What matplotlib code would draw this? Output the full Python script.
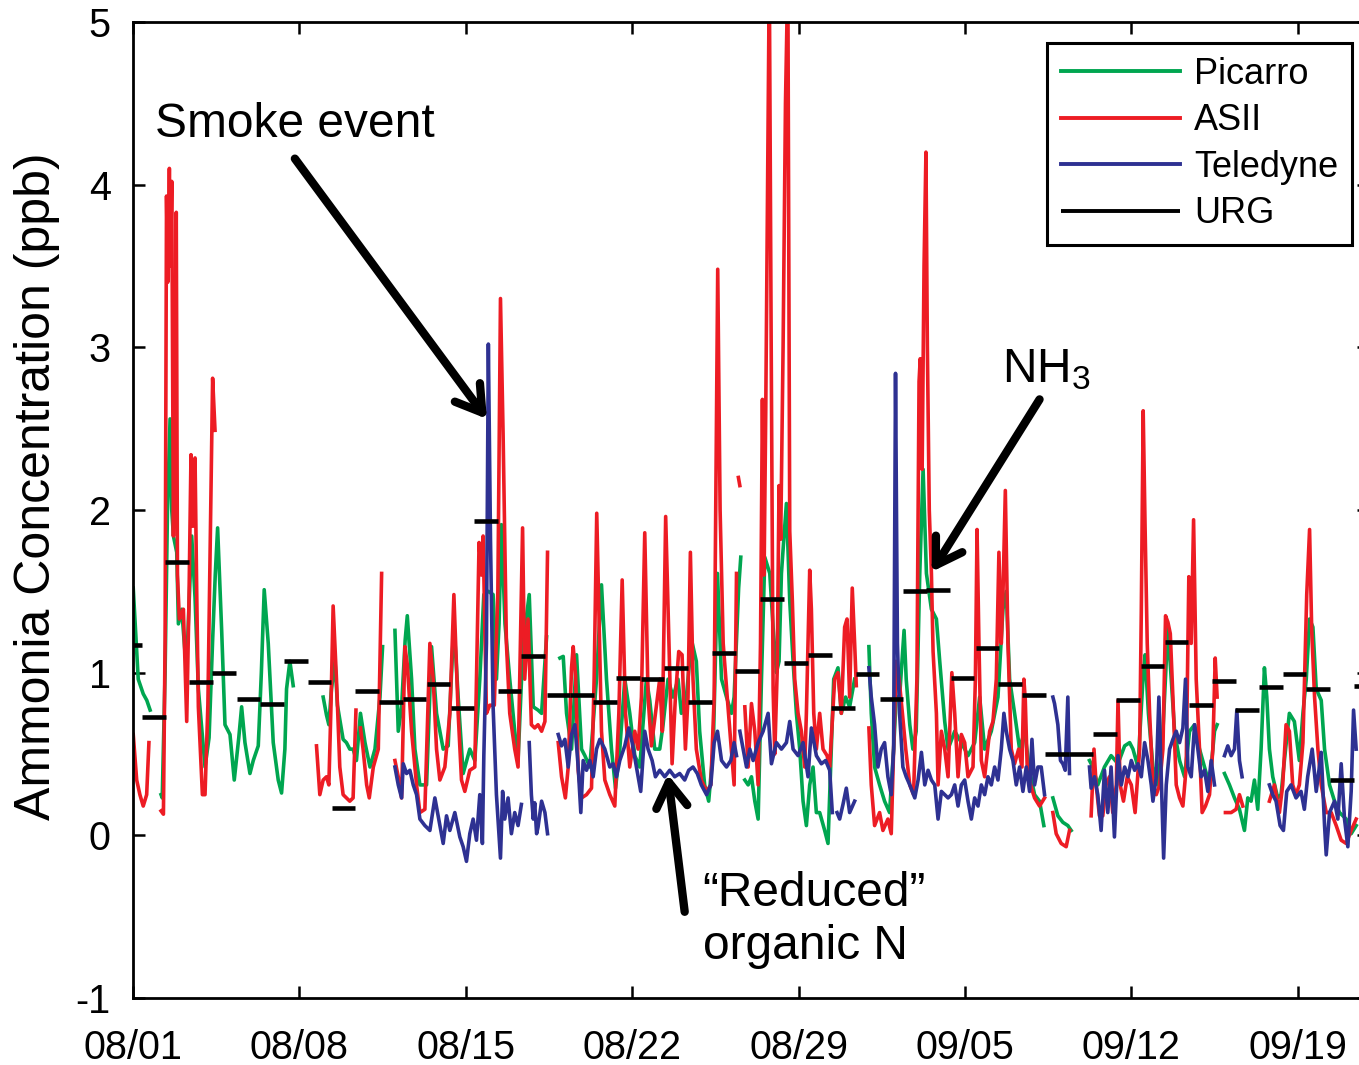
"""
Ammonia time series, 08/01 - 09/20: Picarro, ASII, Teledyne (continuous) and URG (24 h denuder samples).
Output: out.png
"""

import numpy as np
import matplotlib

matplotlib.use("Agg")
import matplotlib.pyplot as plt

plt.rcParams["font.family"] = ["Liberation Sans", "DejaVu Sans"]
plt.rcParams["mathtext.fontset"] = "custom"
plt.rcParams["mathtext.rm"] = "Liberation Sans"
plt.rcParams["mathtext.it"] = "Liberation Sans:italic"
plt.rcParams["axes.unicode_minus"] = False

# ---------------------------------------------------------------------------
# data: (days since 08/01 00:00, ppb); None marks a gap in the record
# ---------------------------------------------------------------------------

PICARRO = [
    (0.01, 1.52), (0.22, 0.96), (0.43, 0.87), (0.58, 0.83), (0.72, 0.77), None,
    (1.18, 0.25), (1.23, 0.23), (1.35, 1.0), (1.45, 2.0), (1.56, 2.56), (1.63, 2.0), (1.70, 1.84),
    (1.84, 1.74), (1.91, 1.30), (2.05, 1.39), (2.2, 1.1), (2.3, 1.2), (2.47, 1.84), (2.61, 1.46),
    (2.75, 0.9), (3.03, 0.42), (3.2, 0.6), (3.35, 1.2), (3.46, 1.6), (3.56, 1.89), (3.73, 1.26),
    (3.87, 0.68), (4.08, 0.62), (4.26, 0.34), (4.45, 0.6), (4.57, 0.79), (4.71, 0.57), (4.92, 0.38),
    (5.06, 0.46), (5.27, 0.55), (5.40, 1.0), (5.52, 1.51), (5.69, 1.18), (5.9, 0.57), (6.11, 0.34),
    (6.25, 0.26), (6.39, 0.53), (6.46, 0.90), (6.6, 1.07), (6.74, 0.92), None,
    (8.0, 0.85), (8.14, 0.74), (8.24, 0.68), (8.35, 0.9), (8.5, 1.07), (8.6, 0.8), (8.84, 0.59),
    (8.98, 0.57), (9.12, 0.53), (9.26, 0.53), (9.4, 0.46), (9.57, 0.75), (9.76, 0.57), (9.97, 0.42),
    (10.18, 0.53), (10.39, 0.85), (10.5, 1.16), None,
    (11.02, 1.26), (11.16, 0.64), (11.3, 0.79), (11.45, 1.2), (11.54, 1.35), (11.72, 0.96),
    (11.86, 0.53), (12.07, 0.31), (12.35, 0.31), (12.56, 1.16), (12.77, 0.75), (13.05, 0.53),
    (13.26, 0.55), (13.5, 1.31), (13.68, 0.85), (13.89, 0.38), (14.17, 0.53), (14.38, 0.46),
    (14.59, 0.96), (14.76, 1.48), (14.95, 1.5), (15.15, 1.48), (15.29, 0.96), (15.4, 1.3),
    (15.5, 1.91), (15.65, 1.3), (15.85, 0.96), (16.06, 0.64), (16.2, 0.46), (16.41, 1.18),
    (16.67, 1.48), (16.84, 0.79), (17.04, 0.77), (17.19, 0.75), (17.4, 1.22), None,
    (17.96, 1.09), (18.1, 1.10), (18.24, 0.75), (18.45, 0.53), (18.66, 1.11), (18.87, 0.53),
    (19.01, 0.49), (19.22, 0.42), (19.5, 0.96), (19.71, 1.54), (19.92, 0.96), (20.13, 0.53),
    (20.3, 0.29), (20.48, 0.53), (20.69, 0.96), (20.9, 0.75), (21.11, 0.49), (21.32, 0.42),
    (21.6, 0.96), (21.74, 0.83), (21.95, 0.53), (22.16, 0.53), (22.3, 0.68), (22.51, 0.96),
    (22.72, 0.85), (22.93, 0.96), (23.07, 0.75), (23.28, 0.85), (23.5, 1.2), (23.7, 1.07),
    (23.84, 0.64), (24.05, 0.31), (24.22, 0.21), (24.41, 0.53), (24.59, 1.61), (24.76, 0.96),
    (24.97, 0.85), (25.18, 0.75), (25.29, 0.85), (25.48, 1.52), (25.57, 1.71), None,
    (25.74, 0.34), (25.88, 0.31), (26.02, 0.36), (26.16, 0.21), (26.3, 0.10), (26.44, 0.96),
    (26.58, 1.71), (26.79, 1.61), (26.93, 1.28), (27.07, 1.0), (27.18, 1.07), (27.28, 1.61),
    (27.38, 1.82), (27.49, 2.04), (27.63, 1.44), (27.77, 1.07), (27.91, 0.75), (28.05, 0.53),
    (28.19, 0.21), (28.33, 0.06), (28.47, 0.31), (28.61, 0.42), (28.75, 0.14), (28.89, 0.14),
    (29.1, 0.03), (29.24, -0.05), (29.38, 0.53), (29.48, 0.96), (29.66, 1.03), (29.8, 0.75),
    (29.98, 0.85), (30.15, 0.79), (30.36, 0.96), None,
    (30.96, 1.16), (31.06, 0.75), (31.2, 0.42), (31.41, 0.31), (31.62, 0.21), (31.83, 0.14),
    (32.0, 0.53), (32.11, 0.85), (32.25, 0.85), (32.44, 1.26), (32.53, 0.96), (32.68, 0.68),
    (32.81, 0.53), (32.95, 0.64), (33.1, 1.61), (33.24, 2.25), (33.38, 1.61), (33.59, 1.39),
    (33.8, 1.33), (33.94, 1.07), (34.15, 0.70), (34.29, 0.53), (34.57, 0.64), (34.85, 0.57),
    (35.13, 0.49), (35.41, 0.57), (35.62, 0.85), (35.83, 0.53), (36.11, 0.64), (36.39, 0.85),
    (36.6, 1.39), (36.74, 1.50), (36.88, 0.96), (37.09, 0.75), (37.3, 0.53), (37.51, 0.64),
    (37.72, 0.40), (37.93, 0.25), (38.14, 0.21), (38.32, 0.06), None,
    (38.7, 0.23), (38.91, 0.12), (39.12, 0.08), (39.33, 0.06), (39.47, 0.03), None,
    (40.24, 0.46), (40.38, 0.42), (40.59, 0.31), (40.87, 0.42), (41.15, 0.49), (41.44, 0.44),
    (41.72, 0.55), (41.93, 0.57), (42.07, 0.53), (42.28, 0.42), (42.49, 0.96), (42.58, 1.11),
    (42.72, 0.75), (42.91, 0.42), (43.12, 0.31), (43.33, 0.64), (43.54, 1.28), (43.68, 0.96),
    (43.82, 0.64), (44.03, 0.46), (44.24, 0.36), (44.45, 0.64), (44.66, 0.68), (44.87, 0.53),
    (45.08, 0.42), (45.29, 0.31), (45.5, 0.64), (45.61, 0.68), None,
    (45.92, 0.38), (46.13, 0.31), (46.34, 0.23), (46.55, 0.16), (46.76, 0.03), (46.9, 0.23),
    (47.04, 0.21), (47.18, 0.34), (47.32, 0.16), (47.46, 0.53), (47.6, 1.03), (47.7, 0.85),
    (47.81, 0.53), (47.95, 0.36), (48.16, 0.23), (48.3, 0.25), (48.44, 0.46), (48.65, 0.75),
    (48.86, 0.70), (49.07, 0.46), (49.22, 0.75), (49.36, 0.96), (49.5, 1.33), (49.64, 1.28),
    (49.78, 0.90), (49.99, 0.83), (50.13, 0.53), (50.34, 0.31), (50.55, 0.21), (50.76, 0.14),
    (51.04, 0.10), (51.25, 0.01), (51.46, 0.06),
]

ASII = [
    (0.01, 0.62), (0.155, 0.34), (0.29, 0.25), (0.43, 0.18), (0.575, 0.25), (0.67, 0.57), None,
    (1.18, 0.15), (1.28, 0.13), (1.35, 1.2), (1.41, 3.93), (1.46, 3.4), (1.53, 4.10), (1.58, 3.5),
    (1.63, 4.02), (1.70, 1.84), (1.76, 2.6), (1.82, 3.83), (1.87, 1.6), (1.95, 1.33), (2.05, 1.35),
    (2.12, 1.39), (2.26, 0.70), (2.35, 1.4), (2.44, 2.34), (2.52, 1.9), (2.61, 2.32), (2.68, 1.5),
    (2.75, 0.79), (2.92, 0.25), (3.03, 0.25), (3.15, 0.8), (3.25, 1.8), (3.35, 2.81), (3.45, 2.49), None,
    (7.72, 0.55), (7.86, 0.25), (8.0, 0.34), (8.14, 0.36), (8.24, 0.31), (8.33, 0.8), (8.42, 1.41),
    (8.56, 0.96), (8.7, 0.42), (8.84, 0.25), (9.12, 0.21), (9.26, 0.23), (9.38, 0.77), None,
    (9.57, 0.66), (9.68, 0.53), (9.83, 0.31), (9.94, 0.23), (10.11, 0.42), (10.32, 0.53),
    (10.46, 1.61), None,
    (11.02, 0.46), (11.16, 0.36), (11.3, 0.23), (11.44, 1.16), (11.54, 1.05), (11.72, 0.64),
    (11.93, 0.31), (12.07, 0.14), (12.28, 0.16), (12.49, 1.18), (12.63, 0.96), (12.77, 0.53),
    (12.91, 0.34), (13.12, 0.42), (13.33, 0.75), (13.5, 1.48), (13.68, 0.75), (13.82, 0.34),
    (13.96, 0.27), (14.17, 0.40), (14.38, 0.42), (14.56, 1.80), (14.66, 1.6), (14.73, 1.84),
    (14.87, 0.75), (15.01, 0.8), (15.2, 0.8), (15.35, 1.5), (15.46, 3.3), (15.57, 2.47),
    (15.71, 1.18), (15.85, 0.75), (16.06, 0.53), (16.2, 0.42), (16.39, 1.89), (16.48, 0.96),
    (16.62, 1.33), (16.76, 0.68), (16.9, 0.66), (17.04, 0.68), (17.19, 0.64), (17.33, 0.70),
    (17.44, 1.74), None,
    (17.89, 0.57), (18.03, 0.36), (18.19, 0.23), (18.31, 0.42), (18.45, 1.03), (18.52, 1.16),
    (18.62, 0.98), (18.73, 0.40), (18.87, 0.23), (19.08, 0.25), (19.29, 0.29), (19.4, 0.96),
    (19.51, 1.98), (19.6, 1.39), (19.71, 0.64), (19.85, 0.34), (20.06, 0.25), (20.27, 0.18),
    (20.44, 0.75), (20.58, 1.57), (20.72, 0.75), (20.9, 0.42), (21.11, 0.64), (21.25, 0.53),
    (21.39, 0.85), (21.53, 1.86), (21.67, 0.85), (21.81, 0.55), (21.98, 0.75), (22.16, 0.96),
    (22.27, 0.64), (22.41, 1.96), (22.55, 1.18), (22.68, 0.44), (22.82, 0.85), (22.96, 1.13),
    (23.1, 1.11), (23.24, 0.53), (23.35, 0.85), (23.45, 1.74), (23.56, 0.96), (23.7, 0.53),
    (23.91, 0.34), (24.13, 0.27), (24.31, 0.31), (24.45, 0.85), (24.54, 2.43), (24.6, 3.48),
    (24.7, 2.0), (24.83, 1.18), (25.0, 0.85), (25.17, 0.53), (25.29, 0.31), (25.39, 1.61), None,
    (25.47, 2.20), (25.53, 2.15), None,
    (25.74, 0.79), (25.88, 0.42), (26.02, 0.81), (26.16, 0.64), (26.3, 0.31), (26.4, 1.18),
    (26.48, 2.68), (26.55, 1.6), (26.62, 2.6), (26.7, 4.0), (26.77, 5.3), (26.85, 3.0),
    (26.93, 0.9), (27.0, 0.5), (27.1, 1.0), (27.18, 2.15), (27.25, 1.82), (27.35, 3.0),
    (27.45, 4.5), (27.55, 5.3), (27.63, 1.87), (27.74, 1.44), (27.84, 0.96), (27.98, 0.75),
    (28.12, 0.64), (28.26, 0.42), (28.33, 0.75), (28.47, 1.63), (28.54, 1.39), (28.64, 0.75),
    (28.75, 0.53), (28.89, 0.75), (29.03, 0.53), (29.2, 0.49), (29.31, 0.42), (29.52, 0.96),
    (29.66, 1.0), (29.8, 0.75), (29.94, 1.28), (30.04, 1.33), (30.15, 0.85), (30.26, 1.52),
    (30.36, 1.18), (30.43, 0.92), None,
    (30.96, 0.66), (31.06, 0.31), (31.2, 0.06), (31.41, 0.14), (31.55, 0.03), (31.76, 0.10),
    (31.9, 0.01), (32.0, 0.53), (32.11, 1.07), (32.23, 0.96), (32.37, 0.75), (32.51, 0.53),
    (32.68, 0.31), (32.84, 0.25), (32.98, 0.96), (33.07, 2.79), (33.12, 2.93), (33.2, 2.25),
    (33.28, 3.5), (33.36, 4.2), (33.42, 3.0), (33.5, 2.0), (33.59, 1.61), (33.66, 1.13),
    (33.8, 0.75), (33.87, 0.31), (34.01, 0.64), (34.15, 0.53), (34.29, 0.36), (34.45, 1.0),
    (34.57, 0.75), (34.71, 0.36), (34.85, 0.62), (34.99, 0.57), (35.13, 0.36), (35.34, 0.42),
    (35.44, 0.96), (35.51, 1.88), (35.59, 1.18), (35.69, 0.46), (35.83, 0.36), (36.04, 0.64),
    (36.18, 0.70), (36.32, 0.96), (36.43, 1.74), (36.53, 1.18), (36.6, 1.48), (36.7, 2.12),
    (36.81, 1.18), (36.95, 0.53), (37.09, 0.44), (37.26, 0.53), (37.4, 0.42), (37.48, 0.96),
    (37.54, 0.83), (37.62, 0.42), (37.76, 0.31), (37.93, 0.23), (38.14, 0.18), (38.35, 0.23), None,
    (38.7, 0.14), (38.84, 0.01), (39.05, -0.05), (39.26, -0.07), (39.4, 0.03), None,
    (40.31, 0.12), (40.43, 0.53), (40.52, 0.31), (40.66, 0.12), (40.8, 0.12), (40.94, 0.31),
    (41.08, 0.36), (41.22, 0.14), (41.37, 0.31), (41.44, 0.83), (41.53, 0.31), (41.67, 0.21),
    (41.83, 0.36), (42.0, 0.31), (42.16, 0.14), (42.35, 0.53), (42.42, 1.37), (42.5, 2.61),
    (42.58, 1.89), (42.67, 1.18), (42.77, 0.75), (42.91, 0.31), (43.05, 0.25), (43.19, 0.31),
    (43.33, 0.53), (43.44, 1.35), (43.54, 1.31), (43.64, 1.24), (43.75, 0.85), (43.89, 0.31),
    (44.03, 0.23), (44.17, 0.18), (44.31, 0.42), (44.42, 1.59), (44.52, 1.18), (44.62, 1.94),
    (44.73, 0.96), (44.87, 0.53), (44.98, 0.14), (45.12, 0.18), (45.29, 0.25), (45.43, 0.53),
    (45.53, 1.09), (45.61, 0.85), None,
    (45.96, 0.14), (46.2, 0.14), (46.41, 0.16), (46.55, 0.25), (46.69, 0.18), None,
    (47.81, 0.21), (48.02, 0.31), (48.23, 0.14), (48.37, 0.31), (48.51, 0.68), (48.65, 0.64),
    (48.79, 0.31), (48.93, 0.25), (49.07, 0.31), (49.22, 0.57), (49.38, 1.48), (49.5, 1.88),
    (49.59, 1.26), (49.71, 0.85), (49.85, 0.53), (49.99, 0.31), (50.2, 0.14), (50.41, 0.14),
    (50.62, 0.06), (50.83, -0.03), (51.04, -0.05), (51.25, 0.03), (51.46, 0.10),
]

TELEDYNE = [
    (11.02, 0.42), (11.16, 0.31), (11.3, 0.23), (11.37, 0.44), (11.51, 0.38), (11.65, 0.40),
    (11.79, 0.31), (11.93, 0.25), (12.07, 0.10), (12.28, 0.06), (12.49, 0.03), (12.7, 0.23),
    (12.91, 0.06), (13.05, -0.05), (13.19, 0.12), (13.33, 0.03), (13.54, 0.14), (13.75, -0.01),
    (13.89, -0.07), (14.03, -0.16), (14.17, 0.01), (14.31, 0.10), (14.45, -0.03), (14.59, 0.25),
    (14.7, -0.05), (14.76, 0.49), (14.87, 1.18), (14.95, 3.02), (15.04, 1.82), (15.15, 0.79),
    (15.29, 0.25), (15.46, -0.14), (15.55, 0.27), (15.64, 0.10), (15.78, 0.23), (15.92, 0.01),
    (16.06, 0.14), (16.2, 0.06), (16.34, 0.19), None,
    (16.67, 0.57), (16.76, 0.25), (16.84, 0.10), (16.9, 0.20), (16.98, 0.01), (17.04, 0.05),
    (17.19, 0.21), (17.33, 0.14), (17.44, 0.01), None,
    (17.89, 0.62), (18.03, 0.55), (18.17, 0.59), (18.31, 0.42), (18.45, 0.62), (18.59, 0.68),
    (18.73, 0.42), (18.84, 0.14), (18.94, 0.46), (19.08, 0.40), (19.22, 0.46), (19.36, 0.36),
    (19.5, 0.53), (19.64, 0.59), (19.85, 0.53), (20.06, 0.42), (20.2, 0.44), (20.34, 0.36),
    (20.48, 0.46), (20.69, 0.55), (20.86, 0.66), (21.0, 0.57), (21.18, 0.42), (21.36, 0.27),
    (21.53, 0.64), (21.67, 0.53), (21.84, 0.46), (21.98, 0.36), (22.16, 0.40), (22.37, 0.36),
    (22.58, 0.40), (22.79, 0.36), (23.0, 0.38), (23.21, 0.34), (23.38, 0.40), (23.56, 0.42),
    (23.74, 0.38), (23.91, 0.31), (24.13, 0.25), (24.31, 0.31), (24.45, 0.57), (24.59, 0.64),
    (24.76, 0.46), (24.97, 0.42), (25.15, 0.46), (25.29, 0.57), (25.39, 0.49), None,
    (25.53, 0.64), (25.67, 0.53), (25.81, 0.42), (25.95, 0.53), (26.09, 0.46), (26.3, 0.57),
    (26.51, 0.64), (26.72, 0.75), (26.86, 0.44), (27.07, 0.57), (27.28, 0.53), (27.49, 0.57),
    (27.63, 0.70), (27.77, 0.53), (27.98, 0.49), (28.19, 0.57), (28.4, 0.36), (28.54, 0.66),
    (28.75, 0.49), (28.96, 0.44), (29.14, 0.46), (29.31, 0.40), (29.42, 0.14), None,
    (29.62, 0.14), (29.73, 0.10), (29.87, 0.19), (30.01, 0.29), (30.15, 0.14), (30.36, 0.21), None,
    (30.96, 1.03), (31.06, 0.85), (31.2, 0.68), (31.34, 0.42), (31.48, 0.53), (31.62, 0.57),
    (31.76, 0.36), (31.9, 0.25), (32.0, 0.53), (32.08, 2.84), (32.16, 1.18), (32.25, 0.75),
    (32.39, 0.42), (32.53, 0.36), (32.68, 0.31), (32.89, 0.23), (33.03, 0.34), (33.17, 0.51),
    (33.31, 0.31), (33.45, 0.40), (33.59, 0.34), (33.73, 0.31), (33.87, 0.10), (34.01, 0.27),
    (34.15, 0.25), (34.29, 0.23), (34.43, 0.25), (34.57, 0.31), (34.71, 0.18), (34.85, 0.31),
    (34.99, 0.34), (35.13, 0.21), (35.27, 0.10), (35.41, 0.23), (35.55, 0.18), (35.69, 0.31),
    (35.83, 0.25), (35.97, 0.36), (36.11, 0.31), (36.25, 0.42), (36.39, 0.34), (36.53, 0.53),
    (36.64, 0.75), (36.74, 0.64), (36.88, 0.53), (37.02, 0.46), (37.16, 0.31), (37.3, 0.42),
    (37.44, 0.27), (37.58, 0.42), (37.72, 0.27), (37.82, 0.59), (37.93, 0.31), (38.07, 0.42),
    (38.21, 0.42), (38.35, 0.25), None,
    (38.7, 0.85), (38.77, 0.81), (38.91, 0.68), (39.02, 0.46), (39.12, 0.44), (39.22, 0.40),
    (39.33, 0.85), (39.4, 0.38), None,
    (40.24, 0.42), (40.31, 0.29), (40.45, 0.36), (40.59, 0.25), (40.73, 0.03), (40.87, 0.40),
    (41.01, 0.14), (41.15, 0.42), (41.29, -0.01), (41.44, 0.49), (41.58, 0.31), (41.72, 0.42),
    (41.86, 0.36), (42.0, 0.46), (42.14, 0.40), (42.28, 0.44), (42.42, 0.36), (42.56, 0.57),
    (42.7, 0.46), (42.84, 0.31), (42.91, 0.21), (43.05, 0.36), (43.16, 0.85), (43.26, 0.36),
    (43.36, -0.14), (43.47, 0.31), (43.61, 0.53), (43.75, 0.59), (43.89, 0.64), (44.03, 0.57),
    (44.17, 0.66), (44.28, 0.96), (44.38, 0.42), (44.52, 0.36), (44.66, 0.68), (44.8, 0.53),
    (44.94, 0.36), (45.08, 0.40), (45.22, 0.27), (45.36, 0.46), (45.5, 0.31), None,
    (45.92, 0.49), (46.06, 0.55), (46.2, 0.49), (46.34, 0.53), (46.44, 0.77), (46.55, 0.46),
    (46.66, 0.36), None,
    (47.81, 0.31), (47.95, 0.25), (48.09, 0.21), (48.26, 0.06), (48.4, 0.03), (48.54, 0.27),
    (48.72, 0.31), (48.93, 0.23), (49.14, 0.27), (49.28, 0.16), (49.42, 0.36), (49.61, 0.53),
    (49.78, 0.27), (49.99, 0.51), (50.13, 0.06), (50.2, -0.12), (50.34, 0.14), (50.55, 0.21),
    (50.69, 0.10), (50.83, 0.44), (50.97, 0.10), (51.11, -0.07), (51.25, 0.27), (51.35, 0.77),
    (51.46, 0.53),
]

# URG denuder: 24 h integrated samples, start day and mean ppb
URG_START = [
    -0.64, 0.37, 1.35, 2.36, 3.34, 4.36, 5.34, 6.35, 7.35, 8.36,
    9.33, 10.34, 11.34, 12.35, 13.36, 14.34, 15.34, 16.34, 17.40, 18.38,
    19.36, 20.34, 21.36, 22.34, 23.35, 24.36, 25.34, 26.37, 27.39, 28.40,
    29.38, 30.40, 31.41, 32.40, 33.38, 34.40, 35.45, 36.39, 37.40, 38.38,
    39.38, 40.38, 41.37, 42.39, 43.40, 44.42, 45.39, 46.38, 47.39, 48.37,
    49.36, 50.36, 51.37,
]
URG_PPB = [
    1.17, 0.73, 1.68, 0.94, 1.00, 0.84, 0.81, 1.07, 0.94, 0.17,
    0.89, 0.82, 0.84, 0.93, 0.78, 1.93, 0.89, 1.10, 0.86, 0.86,
    0.82, 0.97, 0.96, 1.03, 0.82, 1.12, 1.01, 1.45, 1.06, 1.11,
    0.78, 0.99, 0.84, 1.50, 1.51, 0.97, 1.15, 0.93, 0.86, 0.50,
    0.50, 0.62, 0.83, 1.04, 1.19, 0.80, 0.95, 0.77, 0.91, 0.99,
    0.90, 0.34, 0.92,
]
URG_SAMPLE_DAYS = 1.0

TICK_DAYS = [0, 7, 14, 21, 28, 35, 42, 49]
TICK_LABELS = ["08/01", "08/08", "08/15", "08/22", "08/29", "09/05", "09/12", "09/19"]

COLORS = {
    "Picarro": "#00A650",
    "ASII": "#ED1C24",
    "Teledyne": "#2E3192",
    "URG": "#000000",
}


def to_xy(pairs):
    """(day, ppb) pairs -> two arrays, gaps become NaN so the line breaks."""
    x = np.array([np.nan if p is None else p[0] for p in pairs])
    y = np.array([np.nan if p is None else p[1] for p in pairs])
    return x, y


def main():
    fig = plt.figure(figsize=(13.59, 10.65), dpi=100)
    ax = fig.add_axes([133 / 1359, 1 - 998 / 1065, 1236 / 1359, 976 / 1065])

    for name, series in (("Picarro", PICARRO), ("ASII", ASII), ("Teledyne", TELEDYNE)):
        x, y = to_xy(series)
        ax.plot(x, y, color=COLORS[name], lw=2.6, label=name, solid_joinstyle="round")

    start = np.array(URG_START)
    ax.hlines(URG_PPB, start, start + URG_SAMPLE_DAYS, colors=COLORS["URG"], lw=3.3, label="URG")

    ax.set_xlim(0, 52)
    ax.set_ylim(-1, 5)
    ax.set_xticks(TICK_DAYS)
    ax.set_xticklabels(TICK_LABELS)
    ax.set_yticks(range(-1, 6))
    ax.tick_params(axis="both", direction="in", top=True, right=True,
                   length=8.6, width=1.8, labelsize=28.5)
    ax.tick_params(axis="x", pad=22)
    ax.tick_params(axis="y", pad=16)
    for spine in ax.spines.values():
        spine.set_linewidth(2.0)

    ax.set_ylabel("Ammonia Concentration (ppb)", fontsize=36)
    ax.yaxis.set_label_coords(-0.059, 0.524)

    leg = ax.legend(loc="upper right", bbox_to_anchor=(0.9862, 0.9785), borderaxespad=0,
                    fontsize=26, handlelength=3.3, handletextpad=0.38, labelspacing=0.32,
                    borderpad=0.38, fancybox=False, framealpha=1)
    leg.get_frame().set_edgecolor("black")
    leg.get_frame().set_linewidth(2.2)
    for line in leg.get_lines():
        line.set_linewidth(2.8)

    arrow = dict(arrowstyle="->,head_length=0.45,head_width=0.28", lw=6, color="black",
                 shrinkA=0, shrinkB=0, mutation_scale=40, capstyle="round", joinstyle="round")
    text_size = 34.5

    ax.text(0.93, 4.37, "Smoke event", fontsize=text_size, ha="left", va="center")
    ax.annotate("", xy=(14.89, 2.56), xytext=(6.81, 4.16), arrowprops=arrow)

    ax.text(36.55, 2.86, r"NH$_3$", fontsize=text_size, ha="left", va="center")
    ax.annotate("", xy=(33.6, 1.62), xytext=(38.14, 2.68), arrowprops=arrow)

    ax.text(23.97, -0.52, "\u201cReduced\u201d\norganic N", fontsize=text_size,
            ha="left", va="center", linespacing=1.25)
    ax.annotate("", xy=(22.5, 0.375), xytext=(23.21, -0.47), arrowprops=arrow)

    fig.savefig("out.png", dpi=100)
    plt.close(fig)


if __name__ == "__main__":
    main()
